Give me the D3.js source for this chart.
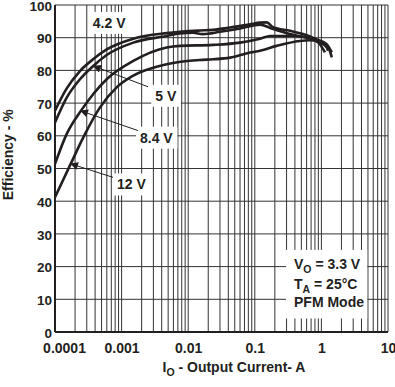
<!DOCTYPE html>
<html>
<head>
<meta charset="utf-8">
<script src="https://cdn.jsdelivr.net/npm/d3@7"></script>
<style>
  body { margin: 0; background: #fff; }
  text { font-family: Arial, "Liberation Sans", sans-serif; font-weight: bold; fill: #231f20; }
</style>
</head>
<body>
<svg id="chart"></svg>
<script>
const width = 395;
const height = 387;
const margin = { top: 5, right: 7, bottom: 55, left: 55 };

// tick values / labels
const xTicks = [0.0001, 0.001, 0.01, 0.1, 1, 10];
const xTickLabels = ["0.0001", "0.001", "0.01", "0.1", "1", "10"];
const yTicks = [0, 10, 20, 30, 40, 50, 60, 70, 80, 90, 100];

// efficiency curves, [output current A, efficiency %]
const vin42 = [[0.0001, 67.7], [0.00015, 74.5], [0.000237, 79.8], [0.000368, 83.3], [0.000597, 86.4],
  [0.0015, 89.7], [0.00475, 91.4], [0.015, 92.2], [0.0236, 92.4], [0.0425, 93.1], [0.085, 94.1],
  [0.12, 94.6], [0.151, 94.7], [0.188, 93.2], [0.338, 92.1], [0.53, 91.1], [0.85, 89.5], [1.2, 88], [1.43, 85.5]];
const vin5 = [[0.0001, 64.1], [0.00015, 71.7], [0.000237, 77.3], [0.000368, 81.2], [0.000597, 84.7],
  [0.0015, 88.5], [0.00475, 90.5], [0.0075, 91.3], [0.0118, 91.5], [0.0166, 91.1], [0.03, 91.8],
  [0.06, 92.8], [0.12, 94.0], [0.17, 93.0], [0.338, 91.1], [0.85, 89], [1.3, 86.5], [1.43, 84]];
const vin84 = [[0.0001, 51.4], [0.00015, 60.6], [0.000246, 67.7], [0.000376, 72.8], [0.000597, 77.3],
  [0.0015, 82.9], [0.00475, 87.0], [0.0075, 87.5], [0.0236, 87.8], [0.06, 88.5], [0.12, 89.7],
  [0.17, 90.5], [0.375, 90.5], [0.67, 89.8], [0.95, 88], [1.13, 85.5]];
const vin12 = [[0.0001, 41.2], [0.000172, 51.4], [0.000266, 59.5], [0.000474, 68.7], [0.000843, 74.8],
  [0.0015, 78.4], [0.00475, 81.9], [0.015, 83.2], [0.0236, 83.4], [0.0425, 83.9], [0.085, 85.5],
  [0.12, 86], [0.213, 87.5], [0.477, 89], [0.67, 89.2], [1.13, 88], [1.26, 86]];

// curve labels: text position and arrow tail/tip, in data units
const curveLabels = [
  { text: "4.2 V", at: [0.00037, 93] },
  { text: "5 V", at: [0.0032, 70.7], tail: [0.00249, 75], tip: [0.00037, 81.4] },
  { text: "8.4 V", at: [0.00189, 57.9], tail: [0.00176, 61.6], tip: [0.000237, 67.7] },
  { text: "12 V", at: [0.000853, 43.6], tail: [0.000743, 47.3], tip: [0.000168, 51.5] }
];

const svg = d3.select("#chart").attr("width", width).attr("height", height);

const x = d3.scaleLog()
  .domain([0.0001, 10])
  .range([margin.left, width - margin.right]);
const y = d3.scaleLinear()
  .domain([0, 100])
  .range([height - margin.bottom, margin.top]);

// grid
const gridX = [];
[0.0001, 0.001, 0.01, 0.1, 1].forEach((d) => {
  for (let k = 1; k <= 9; k++) gridX.push(d * k);
});
gridX.push(10);

const grid = svg.append("g").attr("stroke", "#333").attr("stroke-width", 1);
grid.selectAll(".gx")
  .data(gridX)
  .enter()
  .append("line")
  .attr("x1", (d) => x(d))
  .attr("x2", (d) => x(d))
  .attr("y1", y(0))
  .attr("y2", y(100));
grid.selectAll(".gy")
  .data(yTicks)
  .enter()
  .append("line")
  .attr("x1", x(0.0001))
  .attr("x2", x(10))
  .attr("y1", (d) => y(d))
  .attr("y2", (d) => y(d));

// curve labels with white boxes (drawn over grid, under curves)
const labelLayer = svg.append("g");
curveLabels.forEach((c) => {
  const t = labelLayer.append("text")
    .attr("x", x(c.at[0]))
    .attr("y", y(c.at[1]))
    .attr("font-size", 14)
    .text(c.text);
  const b = t.node().getBBox();
  labelLayer.insert("rect", "text")
    .attr("x", b.x - 4)
    .attr("y", b.y - 3)
    .attr("width", b.width + 8)
    .attr("height", b.height + 6)
    .attr("fill", "#fff");
});

// arrows
svg.append("defs").append("marker")
  .attr("id", "head")
  .attr("viewBox", "0 0 10 10")
  .attr("refX", 10)
  .attr("refY", 5)
  .attr("markerWidth", 10)
  .attr("markerHeight", 8)
  .attr("markerUnits", "userSpaceOnUse")
  .attr("orient", "auto")
  .append("path")
  .attr("d", "M0,0 L10,5 L0,10 Z")
  .attr("fill", "#231f20");

svg.append("g")
  .selectAll("line")
  .data(curveLabels.filter((c) => c.tip))
  .enter()
  .append("line")
  .attr("x1", (d) => x(d.tail[0]))
  .attr("y1", (d) => y(d.tail[1]))
  .attr("x2", (d) => x(d.tip[0]))
  .attr("y2", (d) => y(d.tip[1]))
  .attr("stroke", "#231f20")
  .attr("stroke-width", 1)
  .attr("marker-end", "url(#head)");

// curves
const line = d3.line()
  .x((d) => x(d[0]))
  .y((d) => y(d[1]))
  .curve(d3.curveMonotoneX);

svg.append("g")
  .selectAll("path")
  .data([vin42, vin5, vin84, vin12])
  .enter()
  .append("path")
  .attr("d", line)
  .attr("fill", "none")
  .attr("stroke", "#231f20")
  .attr("stroke-width", 2.6)
  .attr("stroke-linejoin", "round");

// frame: thick left/bottom
svg.append("line")
  .attr("x1", x(0.0001)).attr("x2", x(0.0001))
  .attr("y1", y(100)).attr("y2", y(0))
  .attr("stroke", "#231f20").attr("stroke-width", 2);
svg.append("line")
  .attr("x1", x(0.0001)).attr("x2", x(10))
  .attr("y1", y(0)).attr("y2", y(0))
  .attr("stroke", "#231f20").attr("stroke-width", 2);

// axes
const xAxis = svg.append("g")
  .attr("transform", `translate(0,${y(0)})`)
  .call(d3.axisBottom(x).tickValues(xTicks).tickFormat((d, i) => xTickLabels[i]).tickSize(0).tickPadding(11));
xAxis.select(".domain").remove();
xAxis.selectAll("text").attr("font-size", 14).attr("font-family", null).attr("fill", "#231f20");
xAxis.selectAll(".tick").filter((d, i) => i === 0).select("text").attr("dx", 9);

const yAxis = svg.append("g")
  .attr("transform", `translate(${x(0.0001) - 3},0)`)
  .call(d3.axisLeft(y).tickValues(yTicks).tickSize(0).tickPadding(0));
yAxis.select(".domain").remove();
yAxis.selectAll("text").attr("font-size", 13.5).attr("font-family", null).attr("fill", "#231f20").attr("dy", "0.38em");

// axis titles
svg.append("text")
  .attr("transform", `translate(13,${y(54.2)}) rotate(-90)`)
  .attr("text-anchor", "middle")
  .attr("font-size", 14)
  .text("Efficiency - %");

const xt = svg.append("text")
  .attr("x", 234)
  .attr("y", 372)
  .attr("text-anchor", "middle")
  .attr("font-size", 14);
xt.append("tspan").text("I");
xt.append("tspan").attr("font-size", 10.5).attr("dy", 4).text("O");
xt.append("tspan").attr("dy", -4).text(" - Output Current- A");

// condition box
const notes = svg.append("g");
const n1 = notes.append("text").attr("x", 294).attr("y", y(19.3)).attr("font-size", 14);
n1.append("tspan").text("V");
n1.append("tspan").attr("font-size", 10.5).attr("dy", 4).text("O");
n1.append("tspan").attr("dy", -4).text(" = 3.3 V");
const n2 = notes.append("text").attr("x", 294).attr("y", y(13)).attr("font-size", 14);
n2.append("tspan").text("T");
n2.append("tspan").attr("font-size", 10.5).attr("dy", 4).text("A");
n2.append("tspan").attr("dy", -4).text(" = 25°C");
notes.append("text").attr("x", 294).attr("y", y(7.5)).attr("font-size", 14).text("PFM Mode");
const nb = notes.node().getBBox();
notes.insert("rect", "text")
  .attr("x", nb.x - 8)
  .attr("y", nb.y - 6)
  .attr("width", nb.width + 11)
  .attr("height", nb.height + 14)
  .attr("fill", "#fff");
</script>
</body>
</html>
